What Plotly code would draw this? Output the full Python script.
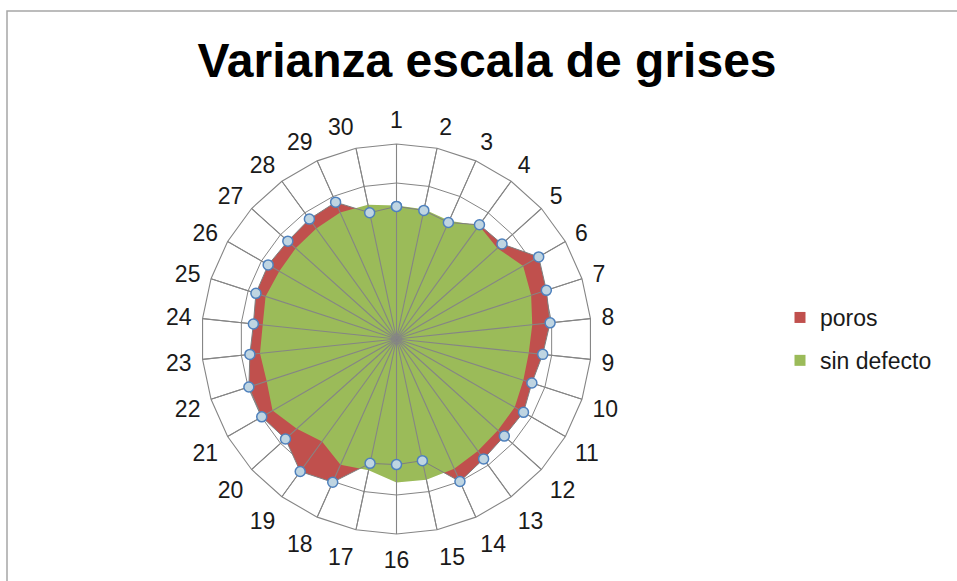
import plotly.graph_objects as go

# Radar categories (1..30) and the two measured series
categorias = [str(i) for i in range(1, 31)]

poros = [3.40, 3.37, 3.27, 3.62, 3.64, 4.21, 4.04, 3.96, 3.77, 3.65,
         3.76, 3.72, 3.80, 4.00, 3.19, 3.22, 3.26, 4.02, 4.20, 3.83,
         3.99, 3.98, 3.78, 3.69, 3.79, 3.80, 3.75, 3.80, 3.84, 3.31]

sin_defecto = [3.42, 3.40, 3.32, 3.60, 3.48, 3.75, 3.63, 3.50, 3.41, 3.42,
               3.50, 3.50, 3.55, 3.64, 3.69, 3.68, 3.44, 3.53, 3.25, 3.44,
               3.67, 3.50, 3.52, 3.45, 3.53, 3.47, 3.48, 3.50, 3.55, 3.52]

escala_max = 5
series_nombres = ["poros", "sin defecto"]

ROJO = "#C0504D"
VERDE = "#9BBB59"
GRIS = "#858585"
FUENTE = "Liberation Sans, Arial, sans-serif"

W, H = 957, 581
cx, cy, R = 396.5, 339.0, 195.0

fig = go.Figure()

# filled areas (red under green)
fig.add_trace(go.Scatterpolar(
    r=poros, theta=categorias, mode="none", fill="toself",
    fillcolor=ROJO, showlegend=False, hoverinfo="skip"))
fig.add_trace(go.Scatterpolar(
    r=sin_defecto, theta=categorias, mode="none", fill="toself",
    fillcolor=VERDE, showlegend=False, hoverinfo="skip"))

# category spokes drawn over the filled areas
spoke_r, spoke_t = [], []
for c in categorias:
    spoke_r += [0, escala_max, None]
    spoke_t += [c, c, None]
fig.add_trace(go.Scatterpolar(
    r=spoke_r, theta=spoke_t, mode="lines",
    line=dict(color=GRIS, width=1.1), showlegend=False, hoverinfo="skip"))

# poros outline with circle markers (closed loop)
fig.add_trace(go.Scatterpolar(
    r=poros + poros[:1], theta=categorias + categorias[:1], mode="lines+markers",
    line=dict(color="#7F7F7F", width=1),
    marker=dict(symbol="circle", size=10, color="#BFD5E2",
                line=dict(color="#4F81BD", width=1.5)),
    showlegend=False))

# legend swatches
for nombre, color in zip(series_nombres, [ROJO, VERDE]):
    fig.add_trace(go.Scatterpolar(
        r=[None], theta=[categorias[0]], mode="markers", name=nombre,
        legendgroup=nombre,
        marker=dict(symbol="square", size=11, color=color)))

fig.update_layout(
    width=W, height=H,
    margin=dict(l=0, r=0, t=0, b=0),
    paper_bgcolor="white",
    font=dict(family=FUENTE, color="#1a1a1a"),
    title=dict(text="Varianza escala de grises",
               x=487 / W, y=1 - 60 / H, xanchor="center", yanchor="middle",
               font=dict(family=FUENTE, size=48, color="#000000", weight="bold")),
    polar=dict(
        domain=dict(x=[(cx - R) / W, (cx + R) / W],
                    y=[1 - (cy + R) / H, 1 - (cy - R) / H]),
        bgcolor="white",
        gridshape="linear",
        angularaxis=dict(
            type="category", categoryarray=categorias,
            direction="clockwise", rotation=90,
            showline=True, linecolor=GRIS, linewidth=1.1,
            showgrid=True, gridcolor=GRIS, gridwidth=1.1,
            ticks="outside", ticklen=6, tickcolor="rgba(0,0,0,0)",
            tickfont=dict(size=23, color="#1a1a1a")),
        radialaxis=dict(
            range=[0, escala_max], dtick=1,
            showticklabels=False, ticks="", showline=False,
            showgrid=True, gridcolor=GRIS, gridwidth=1.1)),
    legend=dict(
        x=780 / W, y=1 - 339 / H, xanchor="left", yanchor="middle",
        traceorder="grouped", tracegroupgap=10,
        font=dict(size=23, color="#1a1a1a"),
        bgcolor="rgba(0,0,0,0)"),
    shapes=[dict(type="rect", xref="paper", yref="paper",
                 x0=7 / W, y0=1 - 11 / H, x1=1.02, y1=-0.02,
                 line=dict(color="#A6A6A6", width=1.5))],
)

fig.write_html("out.html")
